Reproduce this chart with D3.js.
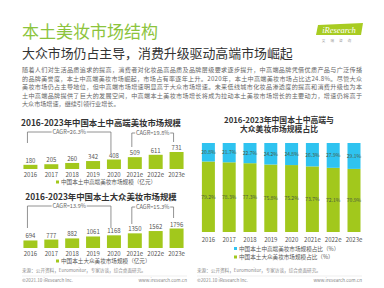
<!DOCTYPE html>
<meta charset="utf-8">
<title>本土美妆市场结构</title>
<style>
body { margin: 0; background: #fff; }
svg { display: block; font-family: "Noto Sans CJK SC", "Noto Sans", sans-serif; }
.para { font-size: 6.1px; fill: #666; }
.ctitle { font-size: 8.4px; font-weight: bold; fill: #333; }
.rtitle { font-size: 7.8px; font-weight: bold; fill: #333; }
.val, .tick { font-size: 6px; fill: #555; }
.lg { font-size: 5.6px; fill: #555; }
.foot { font-size: 4.6px; fill: #888; }
.brk { fill: none; stroke: #777; stroke-width: 0.8; }
.cagr { font-size: 5.6px; fill: #666; }
.seg { font-size: 5px; fill: #4a5a40; }
</style>
<body>
<script src="https://d3js.org/d3.v7.min.js"></script>
<script>

// data
var years = ["2016", "2017", "2018", "2019", "2020", "2021e", "2022e", "2023e"];
var highEnd = [180, 205, 260, 342, 408, 509, 611, 731];     // 中高端 (亿元)
var massMarket = [694, 777, 882, 1061, 1168, 1350, 1562, 1796]; // 大众 (亿元)
var highShare = [20.8, 21.7, 22.7, 24.2, 24.8, 26.3, 27.9, 29.1];
var massShare = [79.2, 78.3, 77.3, 75.8, 75.2, 73.7, 72.1, 70.9];
var cagrHigh = ["CAGR=26.3%", "CAGR=19.8%"];
var cagrMass = ["CAGR=13.9%", "CAGR=15.3%"];

var paragraph = [
  "随着人们对生活品质追求的提高，消费者对化妆品高品质及品牌层级要求逐步提升，中高端品牌凭借优质产品与广泛传播",
  "的品牌美誉度，本土中高端美妆市场崛起，市场占有率逐年上升。2020年，本土中高端美妆市场占比达24.8%。尽管大众",
  "美妆市场仍占主导地位，但中高端市场增速明显高于大众市场增速。未来低线城市化妆品渗透度的提高和消费升级也为本",
  "土中高端品牌提供了巨大的发展空间，中高端本土美妆市场增长将成为拉动本土美妆市场增长的主要动力，增速仍将高于",
  "大众市场增速，继续引领行业增长。"
];

var green = "#a2c81c",
    blue = "#2fc3f0",
    titleGreen = "#8cc43c";

var svg = d3.select("body").append("svg")
    .attr("width", 384)
    .attr("height", 288);

// header
svg.append("text")
    .attr("x", 22).attr("y", 38)
    .style("font-size", "17px").style("fill", titleGreen)
    .text("本土美妆市场结构");

svg.append("text")
    .attr("x", 22).attr("y", 58)
    .style("font-size", "12.9px").style("fill", "#333")
    .text("大众市场仍占主导，消费升级驱动高端市场崛起");

// logo
svg.append("path")
    .attr("d", "M318,25 L363,23 L361,35 L316,35 Z")
    .style("fill", "#a8cc22");
svg.append("text")
    .attr("x", 339).attr("y", 33)
    .attr("text-anchor", "middle")
    .style("font-family", "Liberation Serif").style("font-style", "italic")
    .style("font-size", "8.5px").style("fill", "#fff")
    .text("iResearch");
svg.append("text")
    .attr("x", 339).attr("y", 42)
    .attr("text-anchor", "middle")
    .style("font-size", "3.6px").style("fill", "#999")
    .style("letter-spacing", "5px")
    .text("艾瑞咨询");

// paragraph
paragraph.forEach(function(line, i) {
  var t = svg.append("text")
      .attr("class", "para")
      .attr("x", 22).attr("y", 72 + i * 8.6)
      .text(line);
  if (i < paragraph.length - 1) t.attr("textLength", 340).attr("lengthAdjust", "spacing");
});

// left bar charts
var xl = d3.scaleBand().domain(years).range([20, 187]).paddingInner(0.33).paddingOuter(0.165);

function barChart(cfg) {
  var g = svg.append("g");
  var y = d3.scaleLinear().domain([0, cfg.max]).range([cfg.base, cfg.base - cfg.h]);

  g.append("text").attr("class", "ctitle")
      .attr("x", 101).attr("y", cfg.titleY)
      .attr("text-anchor", "middle")
      .text(cfg.title);

  g.selectAll("rect").data(cfg.values).enter().append("rect")
      .attr("x", function(d, i) { return xl(years[i]); })
      .attr("y", function(d) { return y(d); })
      .attr("width", xl.bandwidth())
      .attr("height", function(d) { return cfg.base - y(d); })
      .style("fill", green);

  g.selectAll(".val").data(cfg.values).enter().append("text")
      .attr("class", "val")
      .attr("x", function(d, i) { return xl(years[i]) + xl.bandwidth() / 2; })
      .attr("y", function(d) { return y(d) - 2; })
      .attr("text-anchor", "middle")
      .text(function(d) { return d; });

  g.selectAll(".tick").data(years).enter().append("text")
      .attr("class", "tick")
      .attr("x", function(d) { return xl(d) + xl.bandwidth() / 2; })
      .attr("y", cfg.base + 8)
      .attr("text-anchor", "middle")
      .text(function(d) { return d; });

  // legend
  g.append("rect").attr("x", 56).attr("y", cfg.base + 11.5)
      .attr("width", 3).attr("height", 3).style("fill", green);
  g.append("text").attr("class", "lg")
      .attr("x", 61).attr("y", cfg.base + 15)
      .text(cfg.legend);

  // CAGR brackets
  var cx = function(i) { return xl(years[i]) + xl.bandwidth() / 2 - 3; };
  cfg.brackets.forEach(function(b) {
    var x0 = cx(b.from), x1 = cx(b.to), mid = (x0 + x1) / 2, gap = b.label.length * 1.75;
    g.append("path").attr("class", "brk")
        .attr("d", "M" + x0 + "," + b.y0 + "V" + b.y + "H" + (mid - gap) +
                   "M" + (mid + gap) + "," + b.y + "H" + x1 + "V" + b.y1);
    g.append("text").attr("class", "cagr")
        .attr("x", mid).attr("y", b.y + 2)
        .attr("text-anchor", "middle")
        .text(b.label);
  });
}

barChart({
  title: "2016-2023年中国本土中高端美妆市场规模",
  titleY: 126, values: highEnd, max: 731, base: 169, h: 17,
  legend: "中国本土中高端美妆市场规模（亿元）",
  brackets: [
    {from: 0, to: 4, y: 132, y0: 143, y1: 153, label: cagrHigh[0]},
    {from: 5, to: 7, y: 133, y0: 147, y1: 142, label: cagrHigh[1]}
  ]
});

barChart({
  title: "2016-2023年中国本土大众美妆市场规模",
  titleY: 200, values: massMarket, max: 1796, base: 248, h: 19.5,
  legend: "中国本土大众美妆市场规模（亿元）",
  brackets: [
    {from: 0, to: 4, y: 206, y0: 228, y1: 228, label: cagrMass[0]},
    {from: 5, to: 7, y: 207, y0: 224, y1: 218, label: cagrMass[1]}
  ]
});

// right stacked chart
var xr = d3.scaleBand().domain(years).range([198, 364.4]).paddingInner(0.375).paddingOuter(0.1875);
var yr = d3.scaleLinear().domain([0, 100]).range([232, 143]);

var rg = svg.append("g");
rg.append("text").attr("class", "rtitle")
    .attr("x", 279).attr("y", 122.5).attr("text-anchor", "middle")
    .text("2016-2023年中国本土中高端与");
rg.append("text").attr("class", "rtitle")
    .attr("x", 279).attr("y", 132).attr("text-anchor", "middle")
    .text("大众美妆市场规模占比");

// mass share at bottom
rg.selectAll(".mass").data(massShare).enter().append("rect")
    .attr("x", function(d, i) { return xr(years[i]); })
    .attr("y", function(d) { return yr(d); })
    .attr("width", xr.bandwidth())
    .attr("height", function(d) { return yr(0) - yr(d); })
    .style("fill", green);

rg.selectAll(".high").data(highShare).enter().append("rect")
    .attr("x", function(d, i) { return xr(years[i]); })
    .attr("y", function(d, i) { return yr(massShare[i] + d); })
    .attr("width", xr.bandwidth())
    .attr("height", function(d) { return yr(0) - yr(d); })
    .style("fill", blue);

rg.selectAll(".ml").data(massShare).enter().append("text")
    .attr("class", "seg")
    .attr("x", function(d, i) { return xr(years[i]) + xr.bandwidth() / 2; })
    .attr("y", function(d) { return yr(d / 2) + 1.8; })
    .attr("text-anchor", "middle")
    .text(function(d) { return d.toFixed(1) + "%"; });

rg.selectAll(".hl").data(highShare).enter().append("text")
    .attr("class", "seg")
    .attr("x", function(d, i) { return xr(years[i]) + xr.bandwidth() / 2; })
    .attr("y", function(d, i) { return yr(massShare[i] + d / 2) + 1.8; })
    .attr("text-anchor", "middle")
    .text(function(d) { return d.toFixed(1) + "%"; });

rg.selectAll(".tick").data(years).enter().append("text")
    .attr("class", "tick")
    .attr("x", function(d) { return xr(d) + xr.bandwidth() / 2; })
    .attr("y", 242)
    .attr("text-anchor", "middle")
    .text(function(d) { return d; });

[[blue, "中国本土中高端美妆市场规模占比（%）"], [green, "中国本土大众美妆市场规模占比（%）"]].forEach(function(l, i) {
  rg.append("rect").attr("x", 234).attr("y", 247 + i * 8.5)
      .attr("width", 3).attr("height", 3).style("fill", l[0]);
  rg.append("text").attr("class", "lg")
      .attr("x", 239).attr("y", 250.5 + i * 8.5)
      .text(l[1]);
});

// footers
[[22, 187], [197, 362]].forEach(function(p) {
  svg.append("text").attr("class", "foot")
      .attr("x", p[0]).attr("y", 272)
      .text("来源：公开资料，Euromonitor，专家访谈，综合桌面研究。");
  svg.append("line")
      .attr("x1", p[0]).attr("x2", p[1]).attr("y1", 276).attr("y2", 276)
      .style("stroke", "#ddd").style("stroke-width", 0.5);
  svg.append("text").attr("class", "foot")
      .attr("x", p[0]).attr("y", 282)
      .text("©2021.10 iResearch Inc.");
  svg.append("text").attr("class", "foot")
      .attr("x", p[1]).attr("y", 282).attr("text-anchor", "end")
      .text("www.iresearch.com.cn");
});

</script>
</body>
